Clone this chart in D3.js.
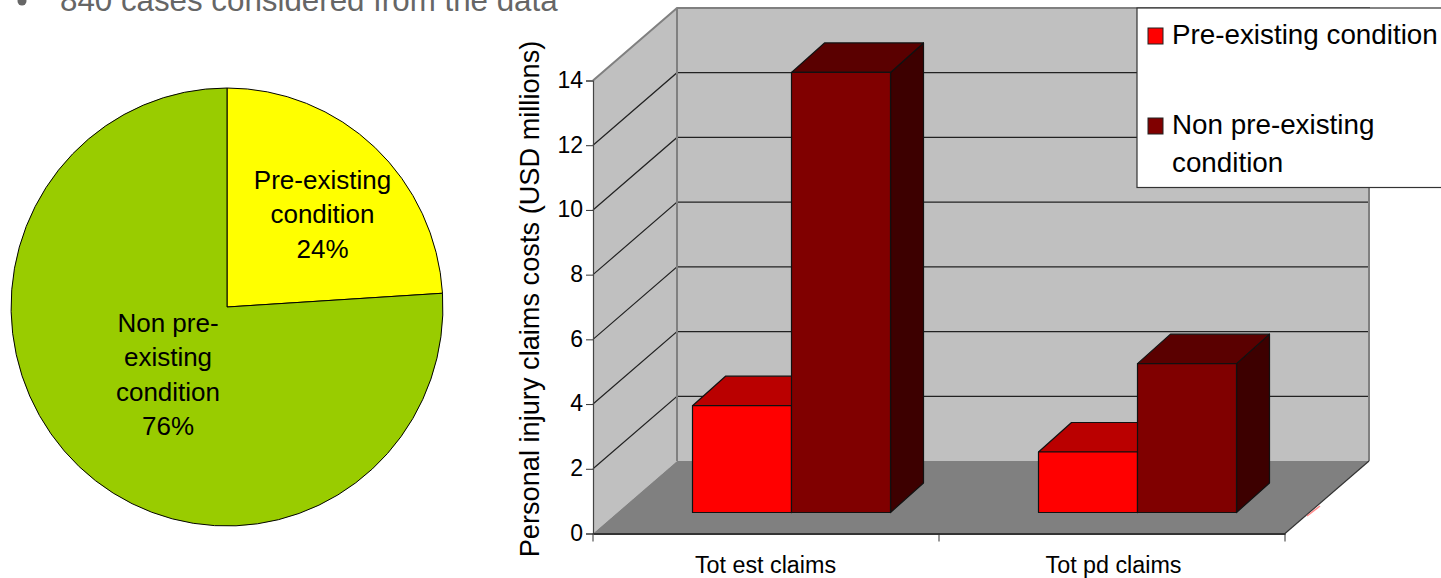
<!DOCTYPE html>
<html>
<head>
<meta charset="utf-8">
<title>Pre-existing conditions</title>
<script src="https://cdn.jsdelivr.net/npm/d3@7"></script>
<style>
  html, body { margin: 0; padding: 0; background: #fff; overflow: hidden; }
  svg { display: block; }
  text { font-family: "Liberation Sans", Arial, sans-serif; fill: #000; }
</style>
</head>
<body>
<svg id="chart" width="1441" height="578"></svg>
<script>
// values
const pieNames = [['Pre-existing', 'condition', '24%'], ['Non pre-', 'existing', 'condition', '76%']];
const pieValues = [24, 76];
const pieColors = ['#FFFF00', '#99CC00'];

const categories = ['Tot est claims', 'Tot pd claims'];
const seriesNames = ['Pre-existing condition', 'Non pre-existing condition'];
const preExisting = [3.3, 1.87];
const nonPreExisting = [13.6, 4.6];
const yTicks = [0, 2, 4, 6, 8, 10, 12, 14];

const seriesColors = [
  { front: '#FF0000', top: '#BA0000', side: '#8A0000' },
  { front: '#800000', top: '#5A0000', side: '#3D0000' }
];

const svg = d3.select('#chart');

// heading, cut by the top of the picture
svg.append('circle').attr('cx', 22).attr('cy', 1).attr('r', 4.5).attr('fill', '#666');
svg.append('text').attr('x', 60).attr('y', 11)
  .style('font-size', '31.3px').style('fill', '#666')
  .text('840 cases considered from the data');

// ---- pie ----
const pieG = svg.append('g').attr('transform', 'translate(227,307) scale(0.986,1)');
const arc = d3.arc().innerRadius(0).outerRadius(219);
const arcs = d3.pie().sort(null)(pieValues);

pieG.selectAll('path')
  .data(arcs)
  .enter()
  .append('path')
  .attr('d', arc)
  .attr('fill', (d, i) => pieColors[i])
  .attr('stroke', '#000')
  .attr('stroke-width', 1);

const pieLabelPos = [{ x: 322.5, y: 189 }, { x: 168, y: 332 }];
const pieLineGap = 34.3;
pieNames.forEach((lines, i) => {
  const t = svg.append('text')
    .attr('text-anchor', 'middle')
    .style('font-size', '26px');
  lines.forEach((line, k) => {
    t.append('tspan')
      .attr('x', pieLabelPos[i].x)
      .attr('y', pieLabelPos[i].y + k * pieLineGap)
      .text(line);
  });
});

// ---- 3d bars ----
const depthX = 84, depthY = -72.5;       // floor depth
const frontX = 24.5, frontY = -21;       // bar front plane
const barDX = 33, barDY = -29.5;         // bar depth

const x = d3.scaleBand().domain(categories).range([593, 1285]);
const x1 = d3.scaleBand().domain(seriesNames).range([75, 273]);
const y = d3.scaleLinear().domain([0, 14]).range([533.5, 80.5]);

const x0 = x.range()[0], xEnd = x.range()[1];
const yBase = y(0), yTop = y(14);
const poly = pts => pts.map(p => p.join(',')).join(' ');

// side wall, back wall, floor
svg.append('polygon')
  .attr('points', poly([[x0, yBase], [x0, yTop], [x0 + depthX, yTop + depthY], [x0 + depthX, yBase + depthY]]))
  .attr('fill', '#C0C0C0');
svg.append('polygon')
  .attr('points', poly([[x0 + depthX, yBase + depthY], [x0 + depthX, yTop + depthY], [xEnd + depthX, yTop + depthY], [xEnd + depthX, yBase + depthY]]))
  .attr('fill', '#C0C0C0');
svg.append('polygon')
  .attr('points', poly([[x0, yBase], [x0 + depthX, yBase + depthY], [xEnd + depthX, yBase + depthY], [xEnd, yBase]]))
  .attr('fill', '#808080');

// gridlines
const gridTicks = yTicks.filter(d => d > 0 && d < 14);
svg.append('g').selectAll('polyline')
  .data(gridTicks)
  .enter()
  .append('polyline')
  .attr('points', d => poly([[x0, y(d)], [x0 + depthX, y(d) + depthY], [xEnd + depthX, y(d) + depthY]]))
  .attr('fill', 'none')
  .attr('stroke', '#222')
  .attr('stroke-width', 1.2);

// wall edges
svg.append('polyline')
  .attr('points', poly([[x0, yTop], [x0 + depthX, yTop + depthY], [xEnd + depthX, yTop + depthY], [xEnd + depthX, yBase + depthY]]))
  .attr('fill', 'none').attr('stroke', '#808080').attr('stroke-width', 2);
svg.append('line')
  .attr('x1', x0 + depthX).attr('x2', x0 + depthX)
  .attr('y1', yTop + depthY).attr('y2', yBase + depthY)
  .attr('stroke', '#808080').attr('stroke-width', 2);
svg.append('line')
  .attr('x1', xEnd).attr('y1', yBase)
  .attr('x2', xEnd + depthX).attr('y2', yBase + depthY)
  .attr('stroke', '#333').attr('stroke-width', 1.2);

// small red smudge next to the floor edge
svg.append('line')
  .attr('x1', 1307).attr('y1', 516).attr('x2', 1320).attr('y2', 506)
  .attr('stroke', '#ff8a8a').attr('stroke-width', 1.5);

// bars, red first so that the dark one covers its side
const drawBar = (cat, name, value, c) => {
  const left = x(cat) + x1(name) + frontX;
  const right = left + x1.bandwidth();
  const top = y(value) + frontY;
  const bottom = y(0) + frontY;
  const g = svg.append('g').attr('stroke', '#111').attr('stroke-width', 1.2).attr('stroke-linejoin', 'round');
  g.append('polygon').attr('fill', c.side)
    .attr('points', poly([[right, top], [right + barDX, top + barDY], [right + barDX, bottom + barDY], [right, bottom]]));
  g.append('polygon').attr('fill', c.top)
    .attr('points', poly([[left, top], [left + barDX, top + barDY], [right + barDX, top + barDY], [right, top]]));
  g.append('rect').attr('fill', c.front)
    .attr('x', left).attr('y', top).attr('width', right - left).attr('height', bottom - top);
};
categories.forEach((cat, i) => {
  drawBar(cat, seriesNames[0], preExisting[i], seriesColors[0]);
  drawBar(cat, seriesNames[1], nonPreExisting[i], seriesColors[1]);
});

// axes
const yAxis = svg.append('g')
  .attr('transform', `translate(${x0},0)`)
  .call(d3.axisLeft(y).tickValues(yTicks).tickSize(7).tickPadding(3));
yAxis.selectAll('text').style('font-size', '23px').attr('dy', '0.3em');
yAxis.selectAll('line').attr('stroke', '#333');
yAxis.select('.domain').attr('stroke', '#444').attr('stroke-width', 1.2);

const xAxis = svg.append('g')
  .attr('transform', `translate(0,${yBase})`)
  .call(d3.axisBottom(x).tickSize(0).tickPadding(23));
xAxis.selectAll('text').style('font-size', '23.3px').attr('dx', (d, i) => i === 1 ? 1.5 : -0.5);
xAxis.select('.domain').attr('stroke', '#333').attr('stroke-width', 2.2);

// the ticks of the category axis stand between the bands
const tickEdges = categories.map(c => x(c)).concat([xEnd]);
svg.append('g').selectAll('line')
  .data(tickEdges)
  .enter()
  .append('line')
  .attr('x1', d => d).attr('x2', d => d)
  .attr('y1', yBase).attr('y2', yBase + 8)
  .attr('stroke', '#333');

svg.append('text')
  .attr('transform', 'translate(539,299) rotate(-90)')
  .attr('text-anchor', 'middle')
  .style('font-size', '27.2px')
  .text('Personal injury claims costs (USD millions)');

// legend, runs off the right side of the picture
svg.append('rect')
  .attr('x', 1137).attr('y', 8).attr('width', 320).attr('height', 179.5)
  .attr('fill', '#fff').attr('stroke', '#333').attr('stroke-width', 1.2);

const legendRows = [
  { lines: ['Pre-existing condition'], y: 44 },
  { lines: ['Non pre-existing', 'condition'], y: 134 }
];
legendRows.forEach((row, i) => {
  svg.append('rect')
    .attr('x', 1148).attr('y', row.y - 16).attr('width', 15).attr('height', 16)
    .attr('fill', seriesColors[i].front).attr('stroke', '#222').attr('stroke-width', 1);
  row.lines.forEach((line, k) => {
    svg.append('text')
      .attr('x', 1172).attr('y', row.y - 0.5 + k * 38)
      .style('font-size', '27.8px')
      .text(line);
  });
});
</script>
</body>
</html>
